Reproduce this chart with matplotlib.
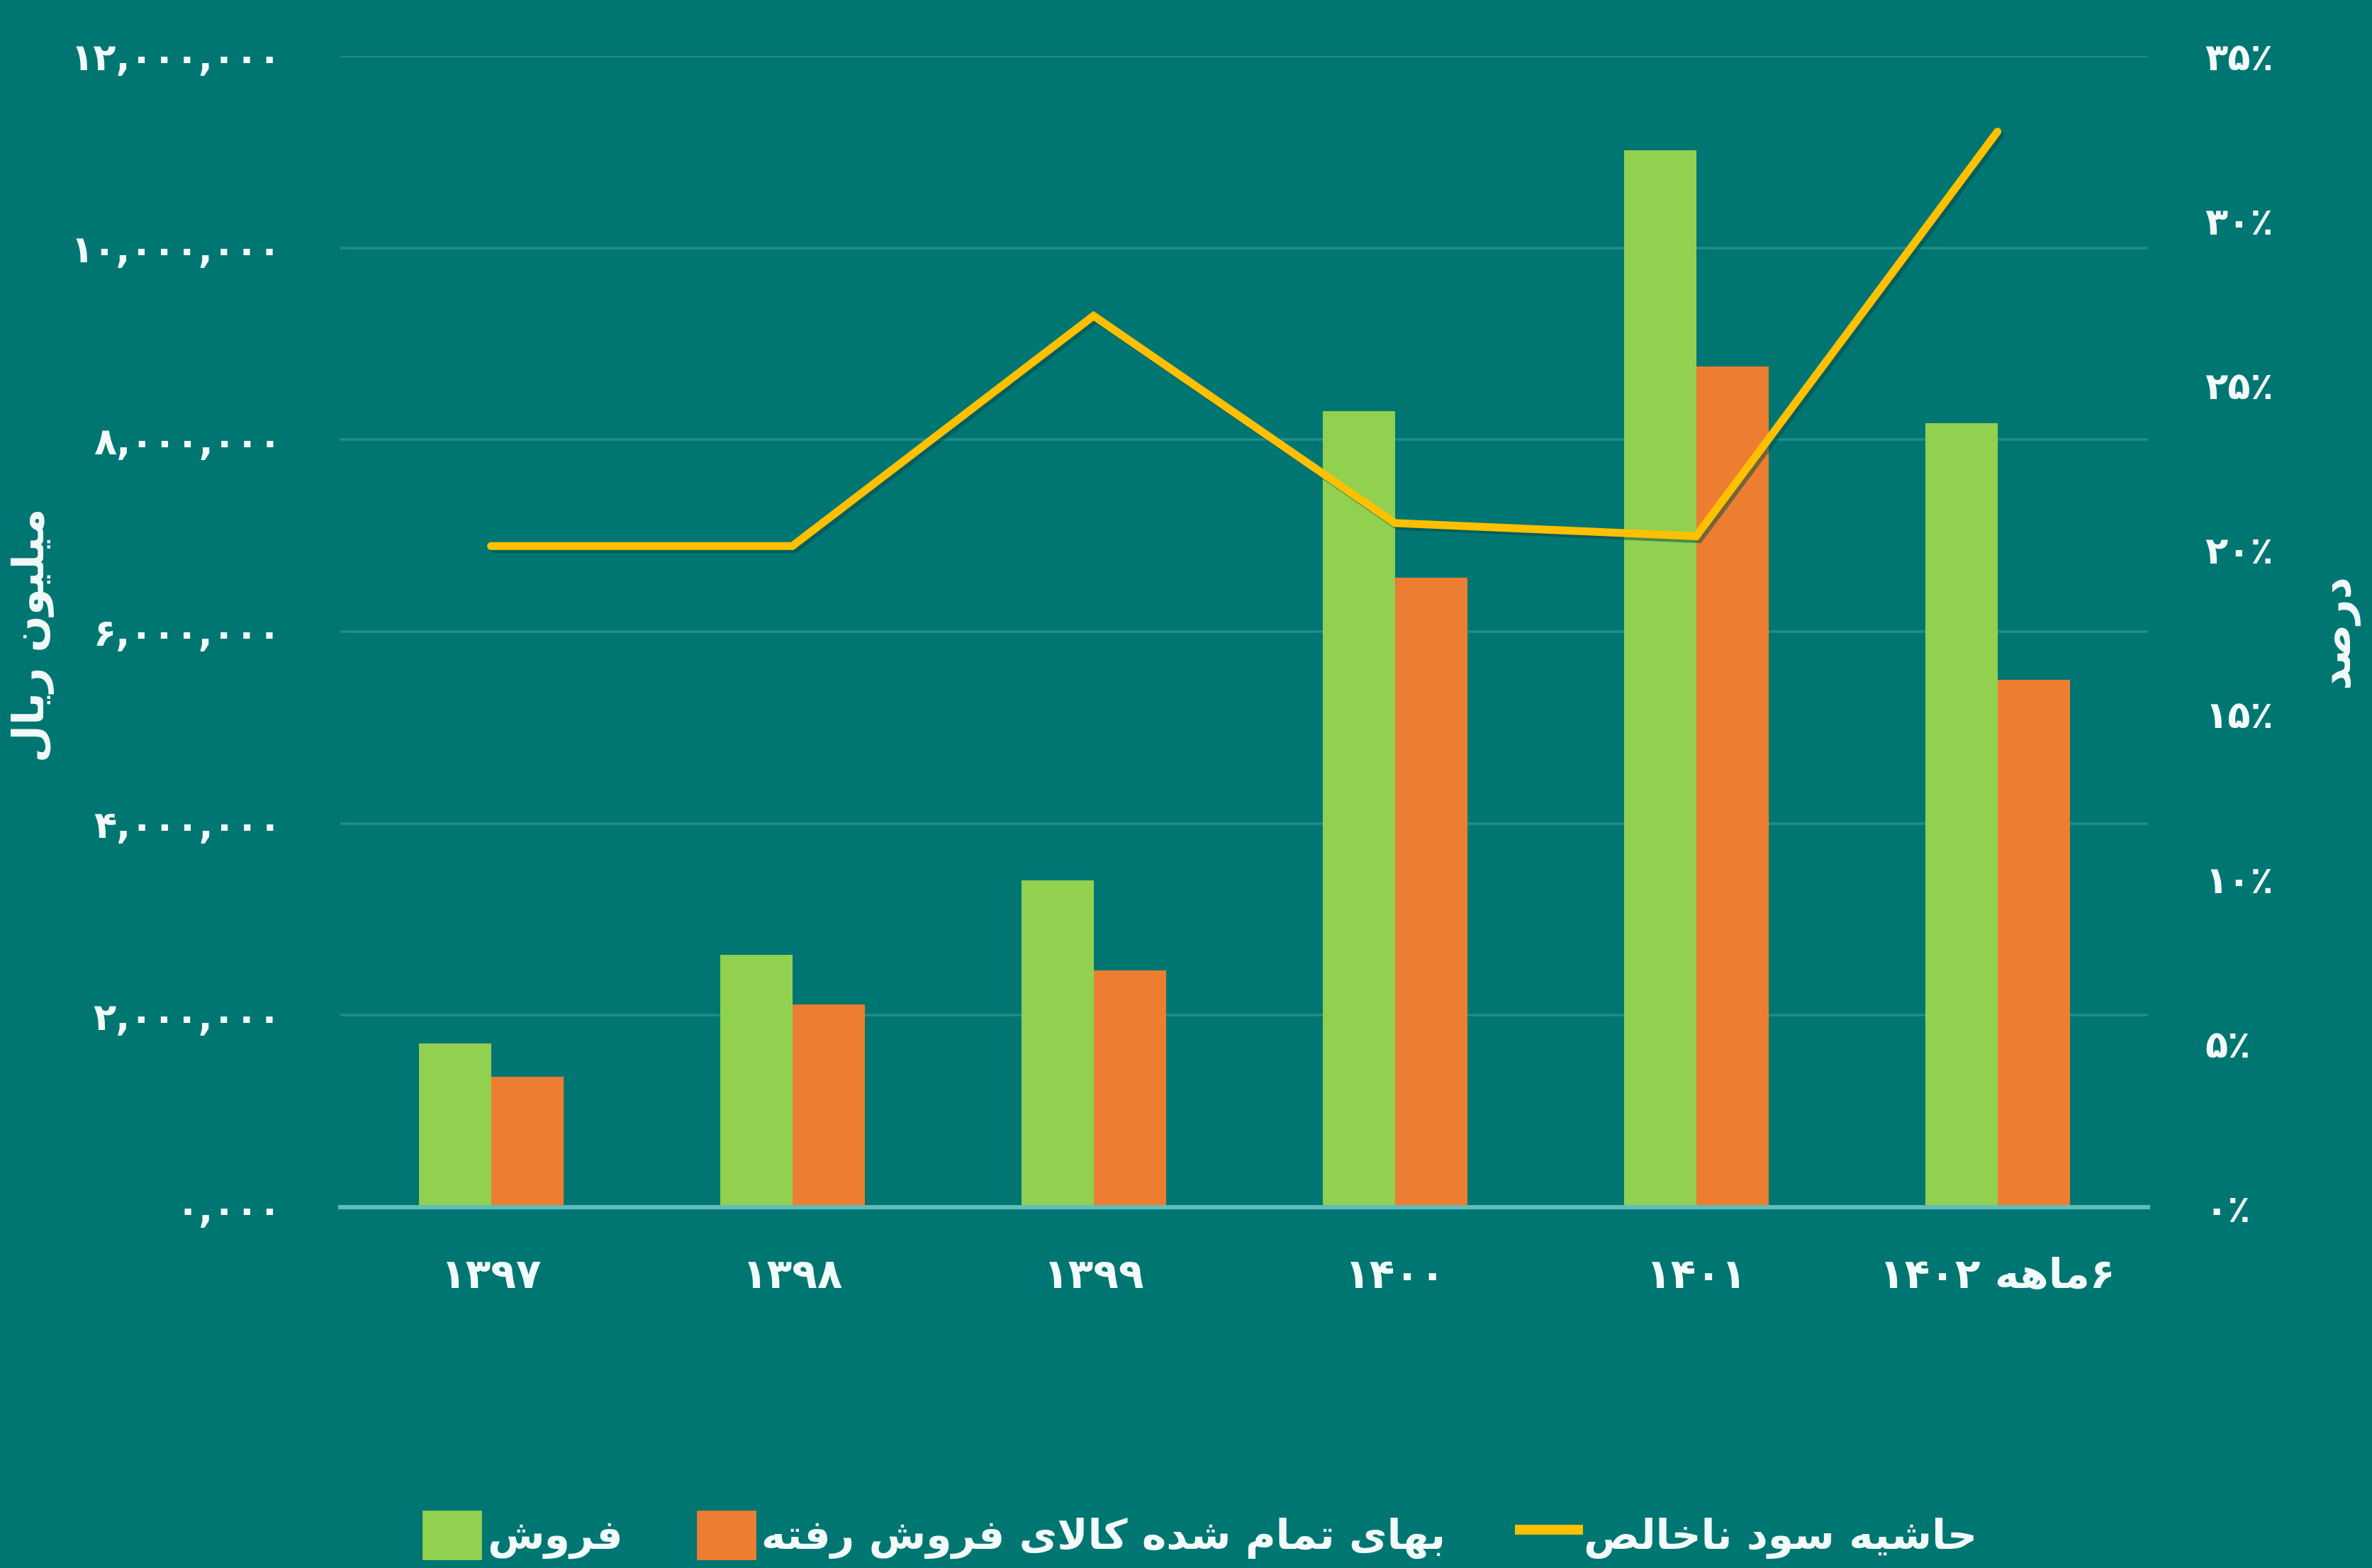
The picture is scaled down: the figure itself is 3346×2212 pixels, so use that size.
import re
import matplotlib
matplotlib.use("Agg")
import matplotlib.pyplot as plt
import matplotlib.patheffects as pe
from matplotlib.patches import Patch
from matplotlib.lines import Line2D
import numpy as np

# داده‌ها (میلیون ریال و درصد)
years = ['۱۳۹۷', '۱۳۹۸', '۱۳۹۹', '۱۴۰۰', '۱۴۰۱', '۶ماهه ۱۴۰۲']
sales = [1710000, 2630000, 3410000, 8300000, 11020000, 8170000]
cogs = [1360000, 2110000, 2470000, 6560000, 8760000, 5500000]
margin = [20.1, 20.1, 27.1, 20.8, 20.4, 32.7]

y_ticks = [0, 2000000, 4000000, 6000000, 8000000, 10000000, 12000000]
y_labels = ['۰,۰۰۰', '۲,۰۰۰,۰۰۰', '۴,۰۰۰,۰۰۰', '۶,۰۰۰,۰۰۰',
            '۸,۰۰۰,۰۰۰', '۱۰,۰۰۰,۰۰۰', '۱۲,۰۰۰,۰۰۰']
p_ticks = [0, 5, 10, 15, 20, 25, 30, 35]
p_labels = ['۰٪', '۵٪', '۱۰٪', '۱۵٪', '۲۰٪', '۲۵٪', '۳۰٪', '۳۵٪']

names = ['فروش', 'بهای تمام شده کالای فروش رفته', 'حاشیه سود ناخالص']
ylabel_left = 'میلیون ریال'
ylabel_right = 'درصد'

bg = '#007672'
green = '#92D050'
orange = '#ED7D31'
yellow = '#FFC000'
txt = '#F2FAFA'

# matplotlib حروف فارسی را به هم نمی‌چسباند، پس دستی شکل می‌دهیم
# isolated, final, initial, medial
FORMS = {
    'ا': ('\uFE8D', '\uFE8E', None, None),
    'ب': ('\uFE8F', '\uFE90', '\uFE91', '\uFE92'),
    'ت': ('\uFE95', '\uFE96', '\uFE97', '\uFE98'),
    'ح': ('\uFEA1', '\uFEA2', '\uFEA3', '\uFEA4'),
    'خ': ('\uFEA5', '\uFEA6', '\uFEA7', '\uFEA8'),
    'د': ('\uFEA9', '\uFEAA', None, None),
    'ر': ('\uFEAD', '\uFEAE', None, None),
    'س': ('\uFEB1', '\uFEB2', '\uFEB3', '\uFEB4'),
    'ش': ('\uFEB5', '\uFEB6', '\uFEB7', '\uFEB8'),
    'ص': ('\uFEB9', '\uFEBA', '\uFEBB', '\uFEBC'),
    'ف': ('\uFED1', '\uFED2', '\uFED3', '\uFED4'),
    'ل': ('\uFEDD', '\uFEDE', '\uFEDF', '\uFEE0'),
    'م': ('\uFEE1', '\uFEE2', '\uFEE3', '\uFEE4'),
    'ن': ('\uFEE5', '\uFEE6', '\uFEE7', '\uFEE8'),
    'ه': ('\uFEE9', '\uFEEA', '\uFEEB', '\uFEEC'),
    'و': ('\uFEED', '\uFEEE', None, None),
    'ک': ('\uFB8E', '\uFB8F', '\uFB90', '\uFB91'),
    'ی': ('\uFBFC', '\uFBFD', '\uFBFE', '\uFBFF'),
    'LA': ('\uFEFB', '\uFEFC', None, None),
}


def shape(s):
    toks = []
    i = 0
    while i < len(s):
        if s[i] == 'ل' and i + 1 < len(s) and s[i + 1] == 'ا':
            toks.append('LA')
            i += 2
        else:
            toks.append(s[i])
            i += 1
    out = []
    for k, t in enumerate(toks):
        if t not in FORMS:
            out.append(t)
            continue
        prev = toks[k - 1] if k > 0 else None
        nxt = toks[k + 1] if k + 1 < len(toks) else None
        jp = prev in FORMS and FORMS[prev][2] is not None
        jn = FORMS[t][2] is not None and nxt in FORMS
        f = FORMS[t]
        if jp and jn:
            out.append(f[3])
        elif jp:
            out.append(f[1])
        elif jn:
            out.append(f[2])
        else:
            out.append(f[0])
    return ''.join(out)


def rtl(s):
    s = shape(s)
    runs = re.findall(r'[0-9۰-۹,٪%]+|[^0-9۰-۹,٪%]+', s)
    return ''.join(r if r[0] in '0123456789۰۱۲۳۴۵۶۷۸۹' else r[::-1]
                   for r in reversed(runs))


plt.rcParams['font.family'] = ['DejaVu Sans']

fig = plt.figure(figsize=(16.73, 11.06), dpi=200, facecolor=bg)
ax = fig.add_axes([0.1435, 0.2301, 0.7621, 0.7342])
ax.set_facecolor(bg)

x = np.arange(len(years))
w = 0.24
ax.bar(x - w / 2, sales, w, color=green, zorder=2)
ax.bar(x + w / 2, cogs, w, color=orange, zorder=2)

ax.set_xlim(-0.5, len(years) - 0.5)
ax.set_ylim(0, 12000000)
ax.set_yticks(y_ticks)
ax.set_yticklabels(y_labels)
ax.set_xticks(x)
ax.set_xticklabels([rtl(y) for y in years])
ax.yaxis.grid(True, color='#228c88', lw=1.3, zorder=0)
ax.set_axisbelow(True)
for s in ['top', 'left', 'right']:
    ax.spines[s].set_visible(False)
ax.spines['bottom'].set_color('#62bcbc')
ax.spines['bottom'].set_linewidth(2.2)
ax.tick_params(axis='y', length=0, pad=30, labelsize=19, labelcolor=txt)
ax.tick_params(axis='x', length=0, pad=25, labelsize=21, labelcolor=txt)
for lb in ax.get_yticklabels() + ax.get_xticklabels():
    lb.set_fontweight('bold')

ax2 = ax.twinx()
ax2.set_ylim(0, 35)
ax2.set_yticks(p_ticks)
ax2.set_yticklabels(p_labels)
for s in ax2.spines.values():
    s.set_visible(False)
ax2.tick_params(axis='y', length=0, pad=29, labelsize=19, labelcolor=txt)
for lb in ax2.get_yticklabels():
    lb.set_fontweight('bold')
ax2.plot(x, margin, color=yellow, lw=4, solid_capstyle='round',
         solid_joinstyle='miter', zorder=3,
         path_effects=[pe.SimpleLineShadow(offset=(1.5, -1.5), shadow_color='#004a47', alpha=0.5),
                       pe.Normal()])

fig.text(47 / 3346, 1 - 896 / 2212, rtl(ylabel_left), rotation=90,
         ha='center', va='center', fontsize=22, fontweight='bold', color=txt)
fig.text(3298 / 3346, 1 - 890 / 2212, rtl(ylabel_right), rotation=90,
         ha='center', va='center', fontsize=22, fontweight='bold', color=txt)

handles = [Patch(color=green), Patch(color=orange),
           Line2D([], [], color=yellow, lw=5)]
leg = fig.legend(handles, [rtl(n) for n in names], ncol=3, loc='center',
                 bbox_to_anchor=(0.506, 0.021), frameon=False, fontsize=21,
                 handlelength=1.4, handleheight=1.4, handletextpad=0.15,
                 columnspacing=1.8, borderpad=0.2)
for t in leg.get_texts():
    t.set_color(txt)
    t.set_fontweight('bold')

fig.savefig('out.png', dpi=200, facecolor=bg)
